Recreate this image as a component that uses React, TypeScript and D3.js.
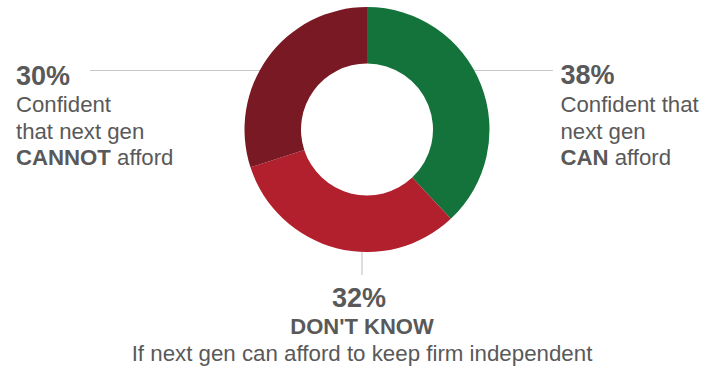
import React from "react";
import * as d3 from "d3";

const categories = ["CAN afford", "DON'T KNOW", "CANNOT afford"];
const values = [38, 32, 30];
const colors = ["#13733b", "#b21f2d", "#781924"];

const W = 716;
const H = 369;
const cx = 367;
const cy = 129.5;
const rOuter = 122.5;
const rInner = 66;
const textColor = "#595959";
const lineColor = "#c8c8c8";
const font = "'Liberation Sans', Arial, sans-serif";

export default function App() {
  const pie = d3.pie<number>().sort(null).value((d) => d)(values);
  const arc = d3.arc<d3.PieArcDatum<number>>().innerRadius(rInner).outerRadius(rOuter);
  const pct = (i: number) => `${values[i]}%`;

  return (
    <svg width={W} height={H} style={{ position: "absolute", left: 0, top: 0 }} fontFamily={font}>
      {/* leader lines */}
      <line x1={90} y1={70.5} x2={270} y2={70.5} stroke={lineColor} strokeWidth={1.2} />
      <line x1={465} y1={70.5} x2={553} y2={70.5} stroke={lineColor} strokeWidth={1.2} />
      <line x1={362} y1={245} x2={362} y2={275} stroke={lineColor} strokeWidth={1.2} />
      <g transform={`translate(${cx},${cy})`}>
        {pie.map((p, i) => (
          <path key={categories[i]} d={arc(p) || ""} fill={colors[i]} />
        ))}
      </g>
      {/* left label */}
      <g fill={textColor}>
        <text x={16} y={84.5} fontSize={27} fontWeight="bold">{pct(2)}</text>
        <text x={16} y={112.3} fontSize={22.2}>Confident</text>
        <text x={16} y={138.6} fontSize={22.2}>that next gen</text>
        <text x={16} y={165} fontSize={22.2}>
          <tspan fontWeight="bold">CANNOT</tspan> afford
        </text>
      </g>
      {/* right label */}
      <g fill={textColor}>
        <text x={560.5} y={83.5} fontSize={27} fontWeight="bold">{pct(0)}</text>
        <text x={560.5} y={112.3} fontSize={22.2}>Confident that</text>
        <text x={560.5} y={138.6} fontSize={22.2}>next gen</text>
        <text x={560.5} y={165} fontSize={22.2}>
          <tspan fontWeight="bold">CAN</tspan> afford
        </text>
      </g>
      {/* bottom label */}
      <g fill={textColor} textAnchor="middle">
        <text x={359} y={306.7} fontSize={27} fontWeight="bold">{pct(1)}</text>
        <text x={362} y={334} fontSize={22} fontWeight="bold">{categories[1]}</text>
        <text x={362} y={360.7} fontSize={22.3}>If next gen can afford to keep firm independent</text>
      </g>
    </svg>
  );
}
